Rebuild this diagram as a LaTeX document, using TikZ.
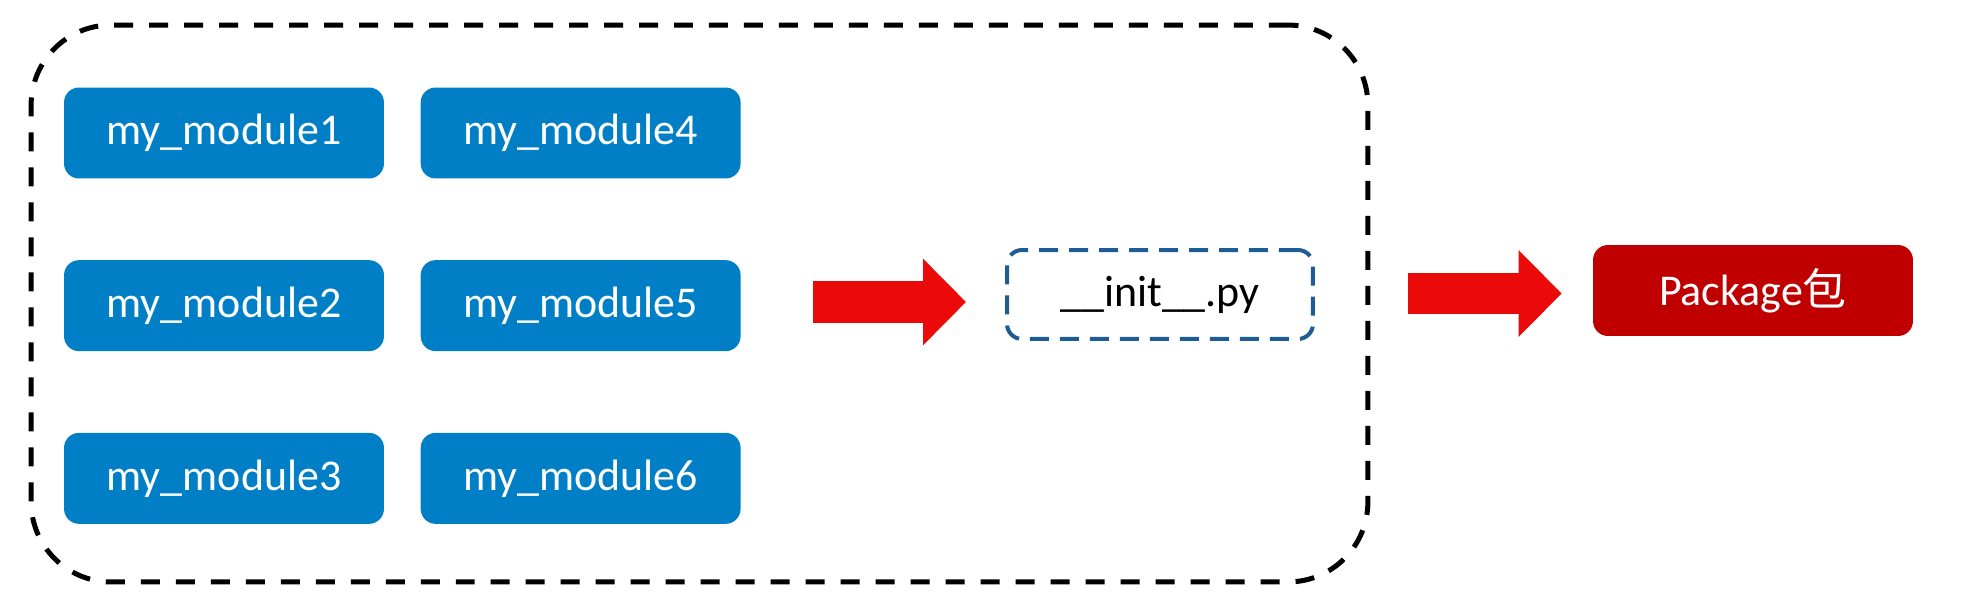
\documentclass[tikz,border=0pt]{standalone}
\usepackage{fontspec}
\setmainfont{Carlito}
\newfontfamily\cjk{Noto Sans CJK SC}
\usetikzlibrary{positioning,arrows.meta}

\definecolor{modblue}{RGB}{0,127,198}
\definecolor{pkgred}{RGB}{192,0,0}
\definecolor{arrred}{RGB}{234,10,10}
\definecolor{initblue}{RGB}{30,92,150}

\tikzset{
  modbox/.style={draw=none,fill=modblue,text=white,rounded corners=0.3cm,
    minimum width=6.4cm,minimum height=1.82cm,inner sep=0pt},
  bigarrow/.style={draw=arrred,line width=0.84cm,
    -{Triangle[length=0.86cm,width=1.68cm,fill=arrred]}}
}

\begin{document}
\begin{tikzpicture}[x=0.02cm, y=-0.02cm, node distance=1.62cm and 0.72cm,
    font=\fontsize{25}{29}\selectfont]
    \useasboundingbox (0,0) rectangle (1961,605);

    % outer group
    \node[draw,dashed,line width=0.1cm,dash pattern=on 0.38cm off 0.32cm,
      rounded corners=1.6cm,minimum width=26.74cm,minimum height=11.14cm]
      (group) at (699.5,303.5) {};

    % modules
    \node[modbox] (mod1) at (224,133) {my\_module1};
    \node[modbox,below=of mod1] (mod2) {my\_module2};
    \node[modbox,below=of mod2] (mod3) {my\_module3};
    \node[modbox,right=of mod1] (mod4) {my\_module4};
    \node[modbox,right=of mod2] (mod5) {my\_module5};
    \node[modbox,right=of mod3] (mod6) {my\_module6};

    % init file and package
    \node[draw=initblue,dashed,line width=0.08cm,dash pattern=on 0.38cm off 0.22cm,
      rounded corners=0.3cm,minimum width=6.12cm,minimum height=1.78cm]
      (init) at (1160,294.5) {\_\_init\_\_.py};
    \node[fill=pkgred,text=white,rounded corners=0.3cm,
      minimum width=6.4cm,minimum height=1.82cm] (pkg) at (1753,290.5) {Package{\cjk 包}};

    % arrows
    \coordinate (a1s) at (813,302);
    \coordinate (a2s) at (1408,293.5);
    \draw[bigarrow,shorten >=0.78cm] (a1s) -- (a1s -| init.west);
    \draw[bigarrow,shorten >=0.62cm] (a2s) -- (a2s -| pkg.west);
\end{tikzpicture}
\end{document}
